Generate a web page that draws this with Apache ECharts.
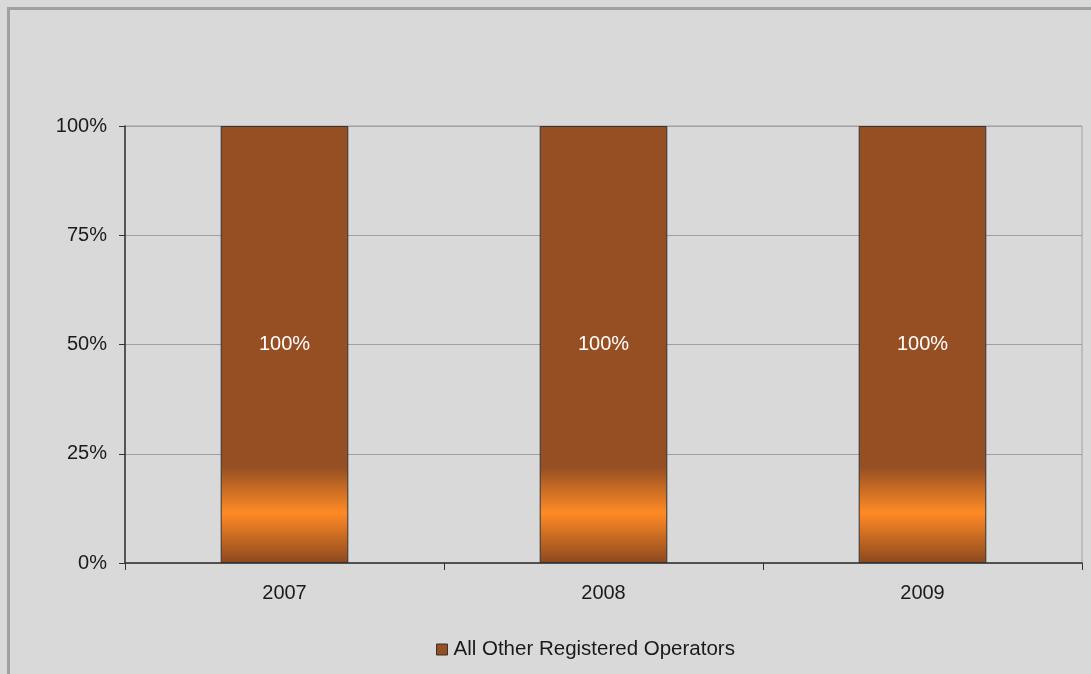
<!DOCTYPE html>
<html>
<head>
<meta charset="utf-8">
<script src="https://cdn.jsdelivr.net/npm/echarts@6/dist/echarts.min.js"></script>
<style>
html,body{margin:0;padding:0;background:#d9d9d9;}
#chart{width:1091px;height:674px;}
</style>
</head>
<body>
<div id="chart"></div>
<script>
const categories = ['2007', '2008', '2009'];
const seriesName = 'All Other Registered Operators';
const values = [100, 100, 100];
const yTicks = [0, 25, 50, 75, 100];

const chart = echarts.init(document.getElementById('chart'));
const font = '"Liberation Sans", Arial, sans-serif';
const grad = new echarts.graphic.LinearGradient(0, 0, 0, 1, [
  {offset: 0, color: '#954f23'},
  {offset: 0.78, color: '#954f23'},
  {offset: 0.885, color: '#ff8a25'},
  {offset: 1, color: '#8c481e'}
]);
chart.setOption({
  backgroundColor: '#d9d9d9',
  animation: false,
  graphic: [{
    type: 'rect', shape: {x: 8.5, y: 8.5, width: 1200, height: 800},
    style: {fill: 'none', stroke: '#a0a0a0', lineWidth: 3}, silent: true, z: 100
  }],
  grid: {left: 125, top: 126, right: 9, bottom: 111, show: true, borderColor: '#a0a0a0', borderWidth: 1},
  legend: {
    top: 639, left: 436, padding: 0,
    itemWidth: 11, itemHeight: 11, itemGap: 10,
    textStyle: {fontFamily: font, fontSize: 20.5, color: '#1a1a1a', padding: [0, 0, 0, 1]},
    data: [{name: seriesName, icon: 'rect', itemStyle: {color: '#954f23', borderColor: '#333', borderWidth: 1}}]
  },
  xAxis: {
    type: 'category', data: categories,
    axisLine: {lineStyle: {color: '#333', width: 1.5}},
    axisTick: {show: true, length: 7, lineStyle: {color: '#333'}},
    axisLabel: {fontFamily: font, fontSize: 20, color: '#1a1a1a', margin: 20}
  },
  yAxis: {
    type: 'value', min: 0, max: 100, interval: 25,
    axisLine: {show: true, lineStyle: {color: '#333', width: 1.5}},
    axisTick: {show: true, length: 6, lineStyle: {color: '#333'}},
    splitLine: {lineStyle: {color: '#a0a0a0', width: 1}},
    axisLabel: {fontFamily: font, fontSize: 20, color: '#1a1a1a', margin: 18,
      formatter: v => yTicks.includes(v) ? v + '%' : ''}
  },
  series: [{
    name: seriesName, type: 'bar', data: values, barWidth: '40%',
    itemStyle: {color: grad, borderColor: '#333', borderWidth: 1},
    label: {show: true, position: 'inside', formatter: '{c}%', color: '#ffffff', fontFamily: font, fontSize: 20}
  }]
});
</script>
</body>
</html>
